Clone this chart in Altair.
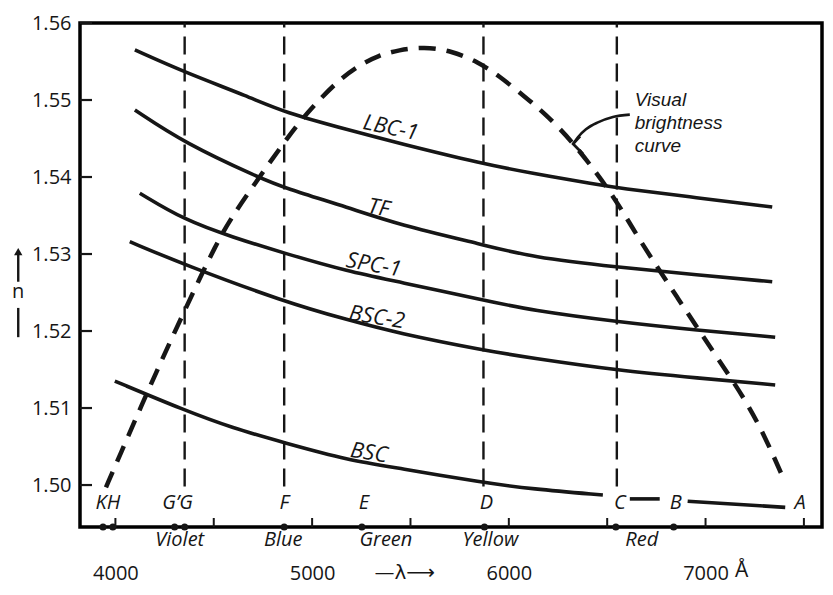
import altair as alt
import pandas as pd

# ---------------- data (wavelength in Å, refractive index n) ----------------
lbc1_wl = [4099, 4352, 4681, 4858, 5187, 5440, 5871, 6114, 6453, 6549, 6959, 7339]
lbc1_n = [1.5565, 1.5536, 1.5504, 1.5484, 1.5461, 1.5444, 1.5417, 1.5405, 1.5390, 1.5386, 1.5373, 1.5361]
tf_wl = [4099, 4352, 4732, 4858, 5187, 5440, 5871, 6114, 6549, 6959, 7339]
tf_n = [1.5487, 1.5444, 1.5399, 1.5386, 1.5360, 1.5338, 1.5312, 1.5296, 1.5283, 1.5273, 1.5264]
spc1_wl = [4124, 4352, 4595, 4858, 5187, 5440, 5871, 6114, 6549, 6959, 7354]
spc1_n = [1.5379, 1.5344, 1.5322, 1.5301, 1.5277, 1.5264, 1.5240, 1.5227, 1.5212, 1.5201, 1.5192]
bsc2_wl = [4073, 4352, 4858, 5187, 5440, 5871, 6114, 6549, 6959, 7354]
bsc2_n = [1.5316, 1.5286, 1.5238, 1.5214, 1.5197, 1.5175, 1.5165, 1.5149, 1.5139, 1.5130]
bsc_wl = [3997, 4352, 4595, 4858, 5187, 5440, 5871, 6114, 6478]
bsc_n = [1.5135, 1.5097, 1.5074, 1.5055, 1.5032, 1.5022, 1.5003, 1.4995, 1.4987]
bsc_cb_wl = [6615, 6767]
bsc_cb_n = [1.4982, 1.4982]
bsc_ba_wl = [6909, 7405]
bsc_ba_n = [1.4979, 1.4971]

bright_wl = [3952, 4023, 4134, 4240, 4342, 4428, 4504, 4580, 4732, 4858, 4934, 5035, 5137,
             5238, 5339, 5440, 5567, 5709, 5846, 5947, 6083, 6185, 6316, 6453, 6554, 6656,
             6757, 6858, 6959, 7060, 7197, 7299, 7400]
bright_n = [1.4997, 1.5039, 1.5104, 1.5165, 1.5221, 1.5268, 1.5308, 1.5344, 1.5400, 1.5445,
            1.5471, 1.5500, 1.5526, 1.5545, 1.5558, 1.5565, 1.5569, 1.5564, 1.5549, 1.5532,
            1.5504, 1.5482, 1.5448, 1.5403, 1.5366, 1.5322, 1.5282, 1.5243, 1.5204, 1.5165,
            1.5113, 1.5065, 1.5006]

curve_names = ["LBC-1", "TF", "SPC-1", "BSC-2", "BSC"]
label_wl = [5400, 5339, 5314, 5329, 5289]
label_n = [1.5464, 1.5360, 1.5286, 1.5218, 1.5042]
label_angle = [12, 10, 10, 9, 9]

line_wl = [4352, 4858, 5871, 6549]          # G, F, D, C dashed verticals
line_bottom = 1.4998
line_top = 1.56

letters = ["KH", "G’G", "F", "E", "D", "C", "B", "A"]
letter_wl = [3962, 4316, 4858, 5263, 5886, 6564, 6848, 7481]
letter_n = 1.4977

dot_wl = [3937, 3987, 4301, 4352, 4858, 5253, 5876, 6544, 6838]

colors = ["Violet", "Blue", "Green", "Yellow", "Red"]
color_wl = [4327, 4853, 5375, 5906, 6676]
color_n = 1.4929

x_ticks = [4000, 4500, 5000, 5500, 6000, 6500, 7000, 7500]
x_labels = [4000, 5000, 6000, 7000]
y_ticks = [1.50, 1.51, 1.52, 1.53, 1.54, 1.55, 1.56]

note_lines = ["Visual", "brightness", "curve"]
note_wl = [6640, 6640, 6640]
note_n = [1.5500, 1.5470, 1.5440]

arrow_wl = [6615, 6529, 6453, 6392, 6352, 6327]
arrow_n = [1.5481, 1.5478, 1.5471, 1.5462, 1.5452, 1.5443]
head_wl = [6362, 6327, 6377]
head_n = [1.5453, 1.5443, 1.5430]

X_DOMAIN = [3820, 7592]
Y_DOMAIN = [1.49455, 1.56]

FONT = "Open Sans"
INK = "#161616"

# ---------------- build tables ----------------
rows = []
for name, wl, n in [("LBC-1", lbc1_wl, lbc1_n), ("TF", tf_wl, tf_n), ("SPC-1", spc1_wl, spc1_n),
                    ("BSC-2", bsc2_wl, bsc2_n), ("BSC", bsc_wl, bsc_n),
                    ("BSC cb", bsc_cb_wl, bsc_cb_n), ("BSC ba", bsc_ba_wl, bsc_ba_n)]:
    for w, v in zip(wl, n):
        rows.append({"seg": name, "wl": w, "n": v})
curves = pd.DataFrame(rows)
bright = pd.DataFrame({"wl": bright_wl, "n": bright_n})
labels = pd.DataFrame({"t": curve_names, "wl": label_wl, "n": label_n, "a": label_angle})
vlines = pd.DataFrame({"wl": line_wl, "n": [line_bottom] * 4, "n2": [line_top] * 4})
let_df = pd.DataFrame({"t": letters, "wl": letter_wl, "n": [letter_n] * len(letters)})
dots = pd.DataFrame({"wl": dot_wl, "n": [Y_DOMAIN[0]] * len(dot_wl)})
col_df = pd.DataFrame({"t": colors, "wl": color_wl, "n": [color_n] * len(colors)})
xt = pd.DataFrame({"wl": x_ticks})
yt = pd.DataFrame({"n": y_ticks})
note_df = pd.DataFrame({"t": note_lines, "wl": note_wl, "n": note_n})
arrow = pd.DataFrame({"wl": arrow_wl, "n": arrow_n, "o": list(range(len(arrow_wl)))})
head = pd.DataFrame({"wl": head_wl, "n": head_n, "o": [0, 1, 2]})

xs = alt.Scale(domain=X_DOMAIN, nice=False, zero=False)
ys = alt.Scale(domain=Y_DOMAIN, nice=False, zero=False)
x_axis = alt.Axis(values=x_labels, format="d", domain=False, ticks=False, tickSize=0, grid=False,
                  labelPadding=46, labelBaseline="middle", labelFont=FONT, labelFontSize=20,
                  labelColor=INK, title=None)
y_axis = alt.Axis(values=y_ticks, format=".2f", domain=False, ticks=False, tickSize=0, grid=False,
                  labelPadding=9, labelFont=FONT, labelFontSize=20, labelColor=INK, title=None)


def X(field="wl"):
    return alt.X(f"{field}:Q", scale=xs, axis=x_axis)


def Y(field="n"):
    return alt.Y(f"{field}:Q", scale=ys, axis=y_axis)


solid = alt.Chart(curves).mark_line(color=INK, strokeWidth=3.6, interpolate="basis").encode(
    x=X(), y=Y(), detail="seg:N")

bright_line = alt.Chart(bright).mark_line(color=INK, strokeWidth=4.5, strokeDash=[17, 11],
                                          interpolate="basis").encode(x=X(), y=Y())

vrules = alt.Chart(vlines).mark_rule(color=INK, strokeWidth=2.4, strokeDash=[18, 9]).encode(
    x=X(), y=Y(), y2="n2:Q")

curve_text = alt.Chart(labels).mark_text(font=FONT, fontSize=22, fontStyle="italic", color=INK).encode(
    x=X(), y=Y(), text="t:N", angle=alt.Angle("a:Q", scale=None))

letter_text = alt.Chart(let_df).mark_text(font=FONT, fontSize=20, fontStyle="italic", color=INK).encode(
    x=X(), y=Y(), text="t:N")

dot_marks = alt.Chart(dots).mark_circle(color=INK, size=50, opacity=1).encode(x=X(), y=Y())

color_text = alt.Chart(col_df).mark_text(font=FONT, fontSize=20, fontStyle="italic", color=INK).encode(
    x=X(), y=Y(), text="t:N")

xtick_marks = alt.Chart(xt).mark_rule(color=INK, strokeWidth=2).encode(
    x=X(), y=alt.value(504), y2=alt.value(495))

ytick_marks = alt.Chart(yt).mark_rule(color=INK, strokeWidth=2.2).encode(
    y=Y(), x=alt.value(0), x2=alt.value(12))

lam_title = alt.Chart(pd.DataFrame({"t": ["—λ⟶"], "wl": [5471], "n": [1.4886]})).mark_text(
    font="DejaVu Sans", fontSize=20, color=INK).encode(x=X(), y=Y(), text="t:N")

ang_unit = alt.Chart(pd.DataFrame({"t": ["Å"], "wl": [7150], "n": [1.4888]})).mark_text(
    font=FONT, fontSize=21, align="left", color=INK).encode(x=X(), y=Y(), text="t:N")

vis_text = alt.Chart(note_df).mark_text(
    font="Liberation Sans", fontSize=19, fontStyle="italic", align="left", baseline="middle",
    color=INK).encode(x=X(), y=Y(), text="t:N")

arrow_line = alt.Chart(arrow).mark_line(color=INK, strokeWidth=2.6, interpolate="monotone").encode(
    x=X(), y=Y(), order="o:Q")
head_line = alt.Chart(head).mark_line(color=INK, strokeWidth=2.8).encode(x=X(), y=Y(), order="o:Q")

# "n" indicator at the left: arrow shaft, head, the letter n and a bar
n_shaft = alt.Chart(pd.DataFrame({"wl": [3506], "n": [1.5264], "n2": [1.5300]})).mark_rule(
    color=INK, strokeWidth=2.4).encode(x=X(), y=Y(), y2="n2:Q")
n_head = alt.Chart(pd.DataFrame({"wl": [3506], "n": [1.5303]})).mark_point(
    shape="triangle-up", filled=True, size=70, color=INK, opacity=1).encode(x=X(), y=Y())
n_text = alt.Chart(pd.DataFrame({"t": ["n"], "wl": [3506], "n": [1.5251]})).mark_text(
    font=FONT, fontSize=20, color=INK).encode(x=X(), y=Y(), text="t:N")
n_bar = alt.Chart(pd.DataFrame({"wl": [3506], "n": [1.5192], "n2": [1.5230]})).mark_rule(
    color=INK, strokeWidth=2.4).encode(x=X(), y=Y(), y2="n2:Q")

chart = alt.layer(
    vrules, bright_line, solid, curve_text, letter_text, dot_marks, color_text,
    xtick_marks, ytick_marks, lam_title, ang_unit, vis_text, arrow_line, head_line,
    n_shaft, n_head, n_text, n_bar,
).properties(
    width=742, height=504,
    autosize=alt.AutoSizeParams(type="none"),
    padding={"left": 72, "top": 15, "right": 3, "bottom": 64},
    background="white",
).configure_view(stroke="black", strokeWidth=3.5)

chart.save("out.html", embed_options={"renderer": "svg", "actions": False})
